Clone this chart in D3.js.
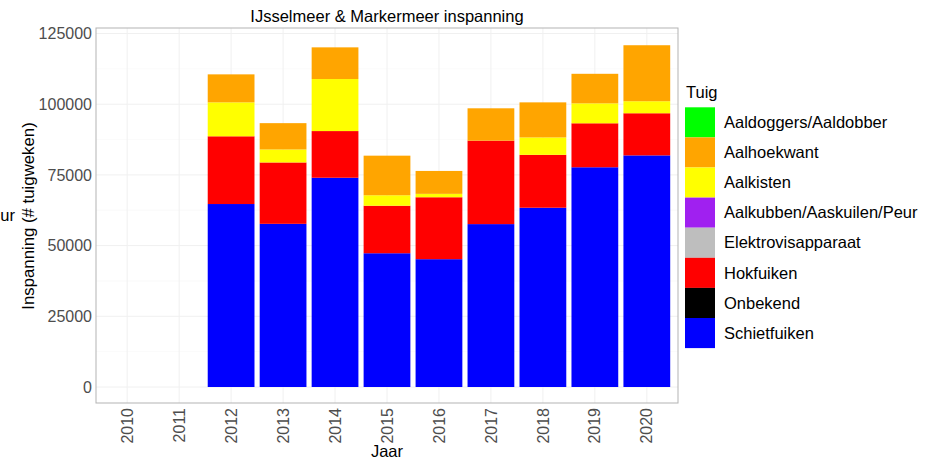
<!DOCTYPE html>
<html><head><meta charset="utf-8">
<script src="https://cdn.jsdelivr.net/npm/d3@7"></script>
<style>body{margin:0;background:#fff;}svg{display:block;font-family:Arial,"Liberation Sans",sans-serif;}</style>
</head><body>
<svg id="c" width="934" height="460"></svg>
<script>
const years = ["2010","2011","2012","2013","2014","2015","2016","2017","2018","2019","2020"];
const gearTypes = ["Aaldoggers/Aaldobber","Aalhoekwant","Aalkisten","Aalkubben/Aaskuilen/Peur","Elektrovisapparaat","Hokfuiken","Onbekend","Schietfuiken"];
const gearColors = ["#00FF00","#FFA500","#FFFF00","#A020F0","#BEBEBE","#FF0000","#000000","#0000FF"];
const aaldoggers   = [0,0,0,0,0,0,0,0,0,0,0];
const aalhoekwant  = [0,0,9900,9300,11200,14000,8100,11450,12400,10450,19800];
const aalkisten    = [0,0,12000,4600,18400,3700,1200,0,6150,7050,4250];
const aalkubben    = [0,0,0,0,0,0,0,0,0,0,0];
const elektro      = [0,0,0,0,0,0,0,0,0,0,0];
const hokfuiken    = [0,0,23950,21700,16500,16800,21900,29500,18700,15550,14900];
const onbekend     = [0,0,0,0,0,0,0,0,0,0,0];
const schietfuiken = [0,0,64700,57700,74000,47300,45200,57600,63400,77700,81900];
const yTicks = [0,25000,50000,75000,100000,125000];

const seriesVals = [aaldoggers,aalhoekwant,aalkisten,aalkubben,elektro,hokfuiken,onbekend,schietfuiken];
const rows = years.map((y,i)=>{const r={year:y}; gearTypes.forEach((g,j)=>r[g]=seriesVals[j][i]); return r;});
const stackKeys = gearTypes.slice().reverse();
const stacked = d3.stack().keys(stackKeys)(rows);
const color = d3.scaleOrdinal().domain(gearTypes).range(gearColors);

const svg = d3.select("#c");
const P = {l:96, r:678, t:28, b:403};
const x = d3.scaleBand().domain(years).range([P.l, P.r]).paddingInner(0.1).paddingOuter(0.15);
const y = d3.scaleLinear().domain([0,125000]).range([387,33.5]);

svg.append("rect").attr("x",P.l).attr("y",P.t).attr("width",P.r-P.l).attr("height",P.b-P.t).attr("fill","#fff");
const minor = yTicks.slice(0,-1).map(v=>v+12500);
svg.append("g").selectAll("line").data(minor).join("line")
  .attr("x1",P.l).attr("x2",P.r).attr("y1",d=>y(d)).attr("y2",d=>y(d)).attr("stroke","#f7f7f7").attr("stroke-width",0.6);
svg.append("g").selectAll("line").data(yTicks).join("line")
  .attr("x1",P.l).attr("x2",P.r).attr("y1",d=>y(d)).attr("y2",d=>y(d)).attr("stroke","#f0f0f0").attr("stroke-width",1);
svg.append("g").selectAll("line").data(years).join("line")
  .attr("y1",P.t).attr("y2",P.b).attr("x1",d=>x(d)+x.bandwidth()/2).attr("x2",d=>x(d)+x.bandwidth()/2).attr("stroke","#f0f0f0").attr("stroke-width",1);

svg.append("g").selectAll("g").data(stacked).join("g").attr("fill",d=>color(d.key))
  .selectAll("rect").data(d=>d.filter(p=>p[1]-p[0]>0)).join("rect")
  .attr("x",d=>x(d.data.year)).attr("width",x.bandwidth())
  .attr("y",d=>y(d[1])).attr("height",d=>y(d[0])-y(d[1]));

svg.append("rect").attr("x",P.l).attr("y",P.t).attr("width",P.r-P.l).attr("height",P.b-P.t)
  .attr("fill","none").attr("stroke","#b3b3b3").attr("stroke-width",1);

const ya = svg.append("g").attr("transform",`translate(${P.l},0)`)
  .call(d3.axisLeft(y).tickValues(yTicks).tickFormat(d3.format("d")).tickSize(0).tickPadding(4));
ya.select(".domain").remove();
ya.selectAll("text").attr("font-size","16px").attr("fill","#4d4d4d").attr("font-family","Arial,'Liberation Sans',sans-serif");

const xa = svg.append("g").attr("transform",`translate(0,${P.b})`)
  .call(d3.axisBottom(x).tickSize(0).tickPadding(0));
xa.select(".domain").remove();
xa.selectAll("text").attr("font-size","16px").attr("fill","#4d4d4d").attr("font-family","Arial,'Liberation Sans',sans-serif")
  .attr("transform","rotate(-90)").attr("text-anchor","end").attr("dy","0.35em").attr("x",-5).attr("y",0);

svg.append("text").attr("x",387).attr("y",22).attr("text-anchor","middle").attr("font-size","16.5px").text("IJsselmeer & Markermeer inspanning");
svg.append("text").attr("x",387).attr("y",457).attr("text-anchor","middle").attr("font-size","16.5px").text("Jaar");
svg.append("text").attr("transform","translate(34,216) rotate(-90)").attr("text-anchor","middle").attr("font-size","16.8px").text("Inspanning (# tuigweken)");
svg.append("text").attr("x",15).attr("y",221).attr("text-anchor","end").attr("font-size","16.5px").text("ur");

const lg = svg.append("g");
lg.append("text").attr("x",686).attr("y",98).attr("font-size","16.5px").text("Tuig");
const items = lg.selectAll("g").data(gearTypes).join("g").attr("transform",(d,i)=>`translate(685,${107.3+i*30.1})`);
items.append("rect").attr("width",30).attr("height",30.1).attr("fill",d=>color(d));
items.append("text").attr("x",39).attr("y",15).attr("dy","0.35em").attr("font-size","16.5px").text(d=>d);
</script>
</body></html>
